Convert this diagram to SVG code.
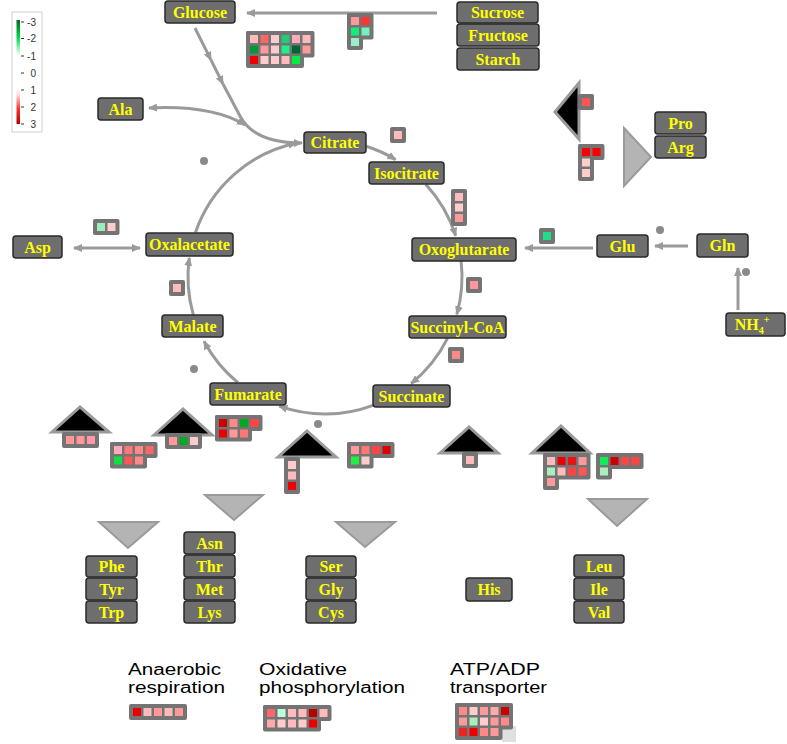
<svg xmlns="http://www.w3.org/2000/svg" width="787" height="744" viewBox="0 0 787 744">
<style>
.node rect{fill:#6e6e6e;stroke:#2a2a2a;stroke-width:1.5}
.node text{font-family:"Liberation Serif",serif;font-weight:bold;font-size:16px;fill:#ffff00;text-anchor:middle}
.conn{fill:none;stroke:#9a9a9a;stroke-width:3}
.arr{marker-end:url(#ah)}
.bg{fill:#747474}
.up{fill:#000;stroke:#9a9a9a;stroke-width:3}
.down{fill:#b4b4b4;stroke:#9a9a9a;stroke-width:2}
.dot{fill:#8a8a8a}
.lbl{font-family:"Liberation Sans",Arial,sans-serif;font-size:16px;fill:#000}
.leg{font-family:"Liberation Sans",Arial,sans-serif;font-size:10px;fill:#333;text-anchor:end}
</style>
<defs>
<marker id="ah" viewBox="0 0 9 8" refX="8" refY="4" markerWidth="9" markerHeight="8" markerUnits="userSpaceOnUse" orient="auto-start-reverse"><path d="M0,0 L9,4 L0,8 z" fill="#9a9a9a"/></marker>
<linearGradient id="lg" x1="0" y1="0" x2="0" y2="1">
<stop offset="0" stop-color="#006a1e"/><stop offset="0.17" stop-color="#00d852"/><stop offset="0.34" stop-color="#ffffff"/><stop offset="0.66" stop-color="#ffffff"/><stop offset="0.72" stop-color="#ffdada"/><stop offset="0.85" stop-color="#ff3535"/><stop offset="1" stop-color="#b00000"/>
</linearGradient>
</defs>
<rect width="787" height="744" fill="#fff"/>

<g id="legend">
<rect x="12" y="12" width="30" height="120" fill="#fff" stroke="#d0d0d0" stroke-width="1"/>
<rect x="16.5" y="20" width="3.5" height="104" fill="url(#lg)"/>
<g stroke="#333" stroke-width="1">
<line x1="21" y1="22" x2="24" y2="22"/><line x1="21" y1="38.5" x2="24" y2="38.5"/><line x1="21" y1="56" x2="24" y2="56"/><line x1="21" y1="73" x2="24" y2="73"/><line x1="21" y1="90" x2="24" y2="90"/><line x1="21" y1="107" x2="24" y2="107"/><line x1="21" y1="124" x2="24" y2="124"/>
</g>
<text class="leg" x="36" y="25.5">-3</text><text class="leg" x="36" y="42">-2</text><text class="leg" x="36" y="59.5">-1</text><text class="leg" x="36" y="76.5">0</text><text class="leg" x="36" y="93.5">1</text><text class="leg" x="36" y="110.5">2</text><text class="leg" x="36" y="127.5">3</text>
</g>

<g id="connectors">
<path class="conn arr" d="M437,13 L247,13"/>
<path class="conn arr" d="M195,28 L211,60"/>
<path class="conn arr" d="M211,60 L223,84"/>
<path class="conn arr" d="M223,84 L240,116 Q254,143 302,143"/>
<path class="conn" d="M245,125 C222,111 190,106 149,108" marker-start="url(#ah)" marker-end="url(#ah)"/>
<path class="conn arr" d="M195.5,232.4 A137,137 0 0 1 296.5,143"/>
<path class="conn arr" d="M366.2,146.3 A137,137 0 0 1 395.6,159.6"/>
<path class="conn arr" d="M425.7,184.2 A137,137 0 0 1 455.7,235.8"/>
<path class="conn arr" d="M461.1,261 A137,137 0 0 1 456.8,314.3"/>
<path class="conn arr" d="M447.6,338.1 A137,137 0 0 1 411.2,383.5"/>
<path class="conn arr" d="M373,405.3 A137,137 0 0 1 279.3,406.1"/>
<path class="conn arr" d="M237.9,382.7 A137,137 0 0 1 204,341.3"/>
<path class="conn arr" d="M193.3,314.8 A137,137 0 0 1 189.3,257.9"/>
<path class="conn" d="M74,248 L140,248" marker-start="url(#ah)" marker-end="url(#ah)"/>
<path class="conn arr" d="M593,248 L525,248"/>
<path class="conn arr" d="M688,246 L655,246"/>
<path class="conn arr" d="M738,310 L738,268"/>
</g>

<g id="dots">
<circle class="dot" cx="204" cy="161" r="4"/>
<circle class="dot" cx="194" cy="369" r="4"/>
<circle class="dot" cx="318" cy="424" r="4"/>
<circle class="dot" cx="660" cy="230" r="4"/>
<circle class="dot" cx="746" cy="272" r="4"/>
</g>

<g id="triangles">
<polygon class="up" points="555,112 579,83 579,139"/>
<polygon class="down" points="624,128 651,157 624,186"/>
<polygon class="up" points="52,432 80,407 109,432"/>
<polygon class="up" points="154,435 183,409 212,435"/>
<polygon class="up" points="278,457 307,431 336,457"/>
<polygon class="up" points="440,453 469,427 498,453"/>
<polygon class="up" points="532,453 561,426 590,453"/>
<polygon class="down" points="99,522 158,522 128,548"/>
<polygon class="down" points="205,495 263,495 234,520"/>
<polygon class="down" points="336,522 395,522 365,547"/>
<polygon class="down" points="588,499 647,499 617,526"/>
</g>

<g id="heatmaps">
<g id="hm-glucose">
<rect class="bg" x="246" y="31" width="68.5" height="26.5" rx="2"/><rect class="bg" x="246" y="31" width="58" height="37" rx="2"/>
<rect x="250" y="35" width="8" height="8" fill="#fbb"/><rect x="260.5" y="35" width="8" height="8" fill="#f66"/><rect x="271" y="35" width="8" height="8" fill="#fcc"/><rect x="281.5" y="35" width="8" height="8" fill="#2c7"/><rect x="292" y="35" width="8" height="8" fill="#fab"/><rect x="302.5" y="35" width="8" height="8" fill="#fbb"/>
<rect x="250" y="45.5" width="8" height="8" fill="#093"/><rect x="260.5" y="45.5" width="8" height="8" fill="#f99"/><rect x="271" y="45.5" width="8" height="8" fill="#fcc"/><rect x="281.5" y="45.5" width="8" height="8" fill="#2e8"/><rect x="292" y="45.5" width="8" height="8" fill="#063"/><rect x="302.5" y="45.5" width="8" height="8" fill="#f99"/>
<rect x="250" y="56" width="8" height="8" fill="#e00"/><rect x="260.5" y="56" width="8" height="8" fill="#fcc"/><rect x="271" y="56" width="8" height="8" fill="#fcc"/><rect x="281.5" y="56" width="8" height="8" fill="#fbb"/><rect x="292" y="56" width="8" height="8" fill="#0e4"/>
</g>
<g id="hm-sucrose">
<rect class="bg" x="347" y="13" width="26.5" height="26.5" rx="2"/><rect class="bg" x="347" y="13" width="16" height="37" rx="2"/>
<rect x="351" y="17" width="8" height="8" fill="#f99"/><rect x="361.5" y="17" width="8" height="8" fill="#f33"/>
<rect x="351" y="27.5" width="8" height="8" fill="#1e7"/><rect x="361.5" y="27.5" width="8" height="8" fill="#7eb"/>
<rect x="351" y="38" width="8" height="8" fill="#9ec"/>
</g>
<g id="hm-citrate"><rect class="bg" x="390" y="127" width="16" height="16" rx="2"/><rect x="394" y="131" width="8" height="8" fill="#fbb"/></g>
<g id="hm-isocitrate"><rect class="bg" x="451" y="189" width="16" height="37" rx="2"/><rect x="455" y="193" width="8" height="8" fill="#fbb"/><rect x="455" y="203.5" width="8" height="8" fill="#fcc"/><rect x="455" y="214" width="8" height="8" fill="#f99"/></g>
<g id="hm-oxo"><rect class="bg" x="466" y="277" width="16" height="16" rx="2"/><rect x="470" y="281" width="8" height="8" fill="#f99"/></g>
<g id="hm-succoa"><rect class="bg" x="448" y="347" width="16" height="16" rx="2"/><rect x="452" y="351" width="8" height="8" fill="#f88"/></g>
<g id="hm-glu"><rect class="bg" x="539" y="228" width="16" height="16" rx="2"/><rect x="543" y="232" width="8" height="8" fill="#2d8"/></g>
<g id="hm-asp"><rect class="bg" x="93" y="219" width="26.5" height="16" rx="2"/><rect x="97" y="223" width="8" height="8" fill="#9eb"/><rect x="107.5" y="223" width="8" height="8" fill="#fcc"/></g>
<g id="hm-malate"><rect class="bg" x="169" y="280" width="16" height="16" rx="2"/><rect x="173" y="284" width="8" height="8" fill="#fbb"/></g>
<g id="hm-pro1"><rect class="bg" x="578" y="94" width="16" height="16" rx="2"/><rect x="582" y="98" width="8" height="8" fill="#f55"/></g>
<g id="hm-pro2"><rect class="bg" x="578" y="144" width="26.5" height="16" rx="2"/><rect class="bg" x="578" y="144" width="16" height="37" rx="2"/><rect x="582" y="148" width="8" height="8" fill="#f00"/><rect x="592.5" y="148" width="8" height="8" fill="#f00"/><rect x="582" y="158.5" width="8" height="8" fill="#fcc"/><rect x="582" y="169" width="8" height="8" fill="#fcc"/></g>
<g id="hm-b1"><rect class="bg" x="62" y="432" width="37" height="16" rx="2"/><rect x="66" y="436" width="8" height="8" fill="#f99"/><rect x="76.5" y="436" width="8" height="8" fill="#f99"/><rect x="87" y="436" width="8" height="8" fill="#f9a"/></g>
<g id="hm-b2"><rect class="bg" x="110" y="442" width="47.5" height="16" rx="2"/><rect class="bg" x="110" y="442" width="37" height="26.5" rx="2"/>
<rect x="114" y="446" width="8" height="8" fill="#fab"/><rect x="124.5" y="446" width="8" height="8" fill="#f77"/><rect x="135" y="446" width="8" height="8" fill="#f88"/><rect x="145.5" y="446" width="8" height="8" fill="#f66"/>
<rect x="114" y="456.5" width="8" height="8" fill="#1d4"/><rect x="124.5" y="456.5" width="8" height="8" fill="#f55"/><rect x="135" y="456.5" width="8" height="8" fill="#f88"/></g>
<g id="hm-b3"><rect class="bg" x="165" y="433" width="37" height="16" rx="2"/><rect x="169" y="437" width="8" height="8" fill="#f99"/><rect x="179.5" y="437" width="8" height="8" fill="#0a2"/><rect x="190" y="437" width="8" height="8" fill="#fcc"/></g>
<g id="hm-b4"><rect class="bg" x="215" y="415" width="47.5" height="16" rx="2"/><rect class="bg" x="215" y="415" width="37" height="26.5" rx="2"/>
<rect x="219" y="419" width="8" height="8" fill="#c00"/><rect x="229.5" y="419" width="8" height="8" fill="#f88"/><rect x="240" y="419" width="8" height="8" fill="#0a2"/><rect x="250.5" y="419" width="8" height="8" fill="#f44"/>
<rect x="219" y="429.5" width="8" height="8" fill="#e00"/><rect x="229.5" y="429.5" width="8" height="8" fill="#f99"/><rect x="240" y="429.5" width="8" height="8" fill="#f77"/></g>
<g id="hm-b5"><rect class="bg" x="284" y="457" width="16" height="37" rx="2"/><rect x="288" y="461" width="8" height="8" fill="#fcc"/><rect x="288" y="471.5" width="8" height="8" fill="#fbb"/><rect x="288" y="482" width="8" height="8" fill="#e00"/></g>
<g id="hm-b6"><rect class="bg" x="347" y="442" width="47.5" height="16" rx="2"/><rect class="bg" x="347" y="442" width="26.5" height="26.5" rx="2"/>
<rect x="351" y="446" width="8" height="8" fill="#f99"/><rect x="361.5" y="446" width="8" height="8" fill="#f77"/><rect x="372" y="446" width="8" height="8" fill="#f44"/><rect x="382.5" y="446" width="8" height="8" fill="#d00"/>
<rect x="351" y="456.5" width="8" height="8" fill="#2e4"/><rect x="361.5" y="456.5" width="8" height="8" fill="#fcc"/></g>
<g id="hm-b7"><rect class="bg" x="462" y="452" width="16" height="16" rx="2"/><rect x="466" y="456" width="8" height="8" fill="#fbb"/></g>
<g id="hm-b8"><rect class="bg" x="543" y="453" width="47.5" height="26.5" rx="2"/><rect class="bg" x="543" y="453" width="16" height="37" rx="2"/>
<rect x="547" y="457" width="8" height="8" fill="#fbb"/><rect x="557.5" y="457" width="8" height="8" fill="#e00"/><rect x="568" y="457" width="8" height="8" fill="#e11"/><rect x="578.5" y="457" width="8" height="8" fill="#f99"/>
<rect x="547" y="467.5" width="8" height="8" fill="#aeb"/><rect x="557.5" y="467.5" width="8" height="8" fill="#fbb"/><rect x="568" y="467.5" width="8" height="8" fill="#f44"/><rect x="578.5" y="467.5" width="8" height="8" fill="#f55"/>
<rect x="547" y="478" width="8" height="8" fill="#f99"/></g>
<g id="hm-b9"><rect class="bg" x="596" y="453" width="47.5" height="16" rx="2"/><rect class="bg" x="596" y="453" width="16" height="26.5" rx="2"/>
<rect x="600" y="457" width="8" height="8" fill="#1e5"/><rect x="610.5" y="457" width="8" height="8" fill="#c00"/><rect x="621" y="457" width="8" height="8" fill="#f44"/><rect x="631.5" y="457" width="8" height="8" fill="#f44"/>
<rect x="600" y="467.5" width="8" height="8" fill="#aeb"/></g>
<g id="hm-anaerobic"><rect class="bg" x="129" y="704" width="58" height="16" rx="2"/>
<rect x="133" y="708" width="8" height="8" fill="#e00"/><rect x="143.5" y="708" width="8" height="8" fill="#fbb"/><rect x="154" y="708" width="8" height="8" fill="#f99"/><rect x="164.5" y="708" width="8" height="8" fill="#fbb"/><rect x="175" y="708" width="8" height="8" fill="#f99"/></g>
<g id="hm-oxphos"><rect class="bg" x="263" y="705" width="68.5" height="16" rx="2"/><rect class="bg" x="263" y="705" width="58" height="26.5" rx="2"/>
<rect x="267" y="709" width="8" height="8" fill="#f66"/><rect x="277.5" y="709" width="8" height="8" fill="#bfd"/><rect x="288" y="709" width="8" height="8" fill="#fbb"/><rect x="298.5" y="709" width="8" height="8" fill="#fbb"/><rect x="309" y="709" width="8" height="8" fill="#b00"/><rect x="319.5" y="709" width="8" height="8" fill="#fbb"/>
<rect x="267" y="719.5" width="8" height="8" fill="#faa"/><rect x="277.5" y="719.5" width="8" height="8" fill="#fcc"/><rect x="288" y="719.5" width="8" height="8" fill="#fbb"/><rect x="298.5" y="719.5" width="8" height="8" fill="#fcc"/><rect x="309" y="719.5" width="8" height="8" fill="#e00"/></g>
<g id="hm-atp"><rect x="502" y="726" width="14" height="16" fill="#e0e0e0"/><rect class="bg" x="455" y="703" width="58" height="26.5" rx="2"/><rect class="bg" x="455" y="703" width="47.5" height="37" rx="2"/>
<rect x="459" y="707" width="8" height="8" fill="#f88"/><rect x="469.5" y="707" width="8" height="8" fill="#fcc"/><rect x="480" y="707" width="8" height="8" fill="#f99"/><rect x="490.5" y="707" width="8" height="8" fill="#faa"/><rect x="501" y="707" width="8" height="8" fill="#c00"/>
<rect x="459" y="717.5" width="8" height="8" fill="#f99"/><rect x="469.5" y="717.5" width="8" height="8" fill="#aeb"/><rect x="480" y="717.5" width="8" height="8" fill="#fcc"/><rect x="490.5" y="717.5" width="8" height="8" fill="#f99"/><rect x="501" y="717.5" width="8" height="8" fill="#f88"/>
<rect x="459" y="728" width="8" height="8" fill="#e22"/><rect x="469.5" y="728" width="8" height="8" fill="#e00"/><rect x="480" y="728" width="8" height="8" fill="#f88"/><rect x="490.5" y="728" width="8" height="8" fill="#f99"/></g>
</g>

<g id="nodes">
<g class="node" id="n-glucose"><rect x="165" y="1" width="70" height="22" rx="3"/><text x="200" y="17.5">Glucose</text></g>
<g class="node" id="n-sucrose"><rect x="457" y="2" width="81" height="21" rx="3"/><text x="497.5" y="18">Sucrose</text></g>
<g class="node" id="n-fructose"><rect x="457" y="24" width="82" height="22" rx="3"/><text x="498" y="40.5">Fructose</text></g>
<g class="node" id="n-starch"><rect x="457" y="48" width="82" height="22" rx="3"/><text x="498" y="64.5">Starch</text></g>
<g class="node" id="n-ala"><rect x="98" y="98" width="45" height="22" rx="3"/><text x="120.5" y="114.5">Ala</text></g>
<g class="node" id="n-citrate"><rect x="304" y="132" width="62" height="21" rx="3"/><text x="335" y="148">Citrate</text></g>
<g class="node" id="n-isocitrate"><rect x="369" y="162" width="75" height="22" rx="3"/><text x="406.5" y="178.5">Isocitrate</text></g>
<g class="node" id="n-oxalacetate"><rect x="146" y="233" width="87" height="23" rx="3"/><text x="189.5" y="250">Oxalacetate</text></g>
<g class="node" id="n-asp"><rect x="13" y="236" width="49" height="22" rx="3"/><text x="37.5" y="252.5">Asp</text></g>
<g class="node" id="n-malate"><rect x="162" y="315" width="61" height="22" rx="3"/><text x="192.5" y="331.5">Malate</text></g>
<g class="node" id="n-fumarate"><rect x="210" y="383" width="76" height="22" rx="3"/><text x="248" y="399.5">Fumarate</text></g>
<g class="node" id="n-oxoglutarate"><rect x="412" y="238" width="104" height="23" rx="3"/><text x="464" y="255">Oxoglutarate</text></g>
<g class="node" id="n-succinylcoa"><rect x="409" y="316" width="97" height="22" rx="3"/><text x="457.5" y="332.5">Succinyl-CoA</text></g>
<g class="node" id="n-succinate"><rect x="373" y="385" width="77" height="22" rx="3"/><text x="411.5" y="401.5">Succinate</text></g>
<g class="node" id="n-glu"><rect x="597" y="235" width="51" height="22" rx="3"/><text x="622.5" y="251.5">Glu</text></g>
<g class="node" id="n-gln"><rect x="697" y="234" width="51" height="23" rx="3"/><text x="722.5" y="251">Gln</text></g>
<g class="node" id="n-nh4"><rect x="726" y="313" width="59" height="23" rx="3"/><text x="752" y="329.5">NH<tspan font-size="10" dy="4">4</tspan><tspan font-size="10" dy="-11">+</tspan></text></g>
<g class="node" id="n-pro"><rect x="655" y="112" width="51" height="22" rx="3"/><text x="680.5" y="128.5">Pro</text></g>
<g class="node" id="n-arg"><rect x="655" y="136" width="51" height="22" rx="3"/><text x="680.5" y="152.5">Arg</text></g>
<g class="node" id="n-phe"><rect x="86" y="556" width="51" height="21" rx="3"/><text x="111.5" y="572">Phe</text></g>
<g class="node" id="n-tyr"><rect x="86" y="578" width="51" height="22" rx="3"/><text x="111.5" y="594.5">Tyr</text></g>
<g class="node" id="n-trp"><rect x="86" y="601" width="51" height="22" rx="3"/><text x="111.5" y="617.5">Trp</text></g>
<g class="node" id="n-asn"><rect x="184" y="532" width="51" height="22" rx="3"/><text x="209.5" y="548.5">Asn</text></g>
<g class="node" id="n-thr"><rect x="184" y="555" width="51" height="22" rx="3"/><text x="209.5" y="571.5">Thr</text></g>
<g class="node" id="n-met"><rect x="184" y="578" width="51" height="22" rx="3"/><text x="209.5" y="594.5">Met</text></g>
<g class="node" id="n-lys"><rect x="184" y="601" width="51" height="22" rx="3"/><text x="209.5" y="617.5">Lys</text></g>
<g class="node" id="n-ser"><rect x="306" y="556" width="50" height="21" rx="3"/><text x="331" y="572">Ser</text></g>
<g class="node" id="n-gly"><rect x="306" y="578" width="50" height="22" rx="3"/><text x="331" y="594.5">Gly</text></g>
<g class="node" id="n-cys"><rect x="306" y="601" width="50" height="22" rx="3"/><text x="331" y="617.5">Cys</text></g>
<g class="node" id="n-his"><rect x="466" y="578" width="46" height="23" rx="3"/><text x="489" y="595">His</text></g>
<g class="node" id="n-leu"><rect x="574" y="555" width="50" height="22" rx="3"/><text x="599" y="571.5">Leu</text></g>
<g class="node" id="n-ile"><rect x="574" y="578" width="50" height="22" rx="3"/><text x="599" y="594.5">Ile</text></g>
<g class="node" id="n-val"><rect x="574" y="601" width="50" height="22" rx="3"/><text x="599" y="617.5">Val</text></g>
</g>

<g id="labels">
<text class="lbl" x="128" y="675" textLength="93" lengthAdjust="spacingAndGlyphs">Anaerobic</text><text class="lbl" x="128" y="693" textLength="97" lengthAdjust="spacingAndGlyphs">respiration</text>
<text class="lbl" x="259" y="675" textLength="88" lengthAdjust="spacingAndGlyphs">Oxidative</text><text class="lbl" x="259" y="693" textLength="146" lengthAdjust="spacingAndGlyphs">phosphorylation</text>
<text class="lbl" x="450" y="675" textLength="90" lengthAdjust="spacingAndGlyphs">ATP/ADP</text><text class="lbl" x="450" y="693" textLength="97" lengthAdjust="spacingAndGlyphs">transporter</text>
</g>
</svg>
